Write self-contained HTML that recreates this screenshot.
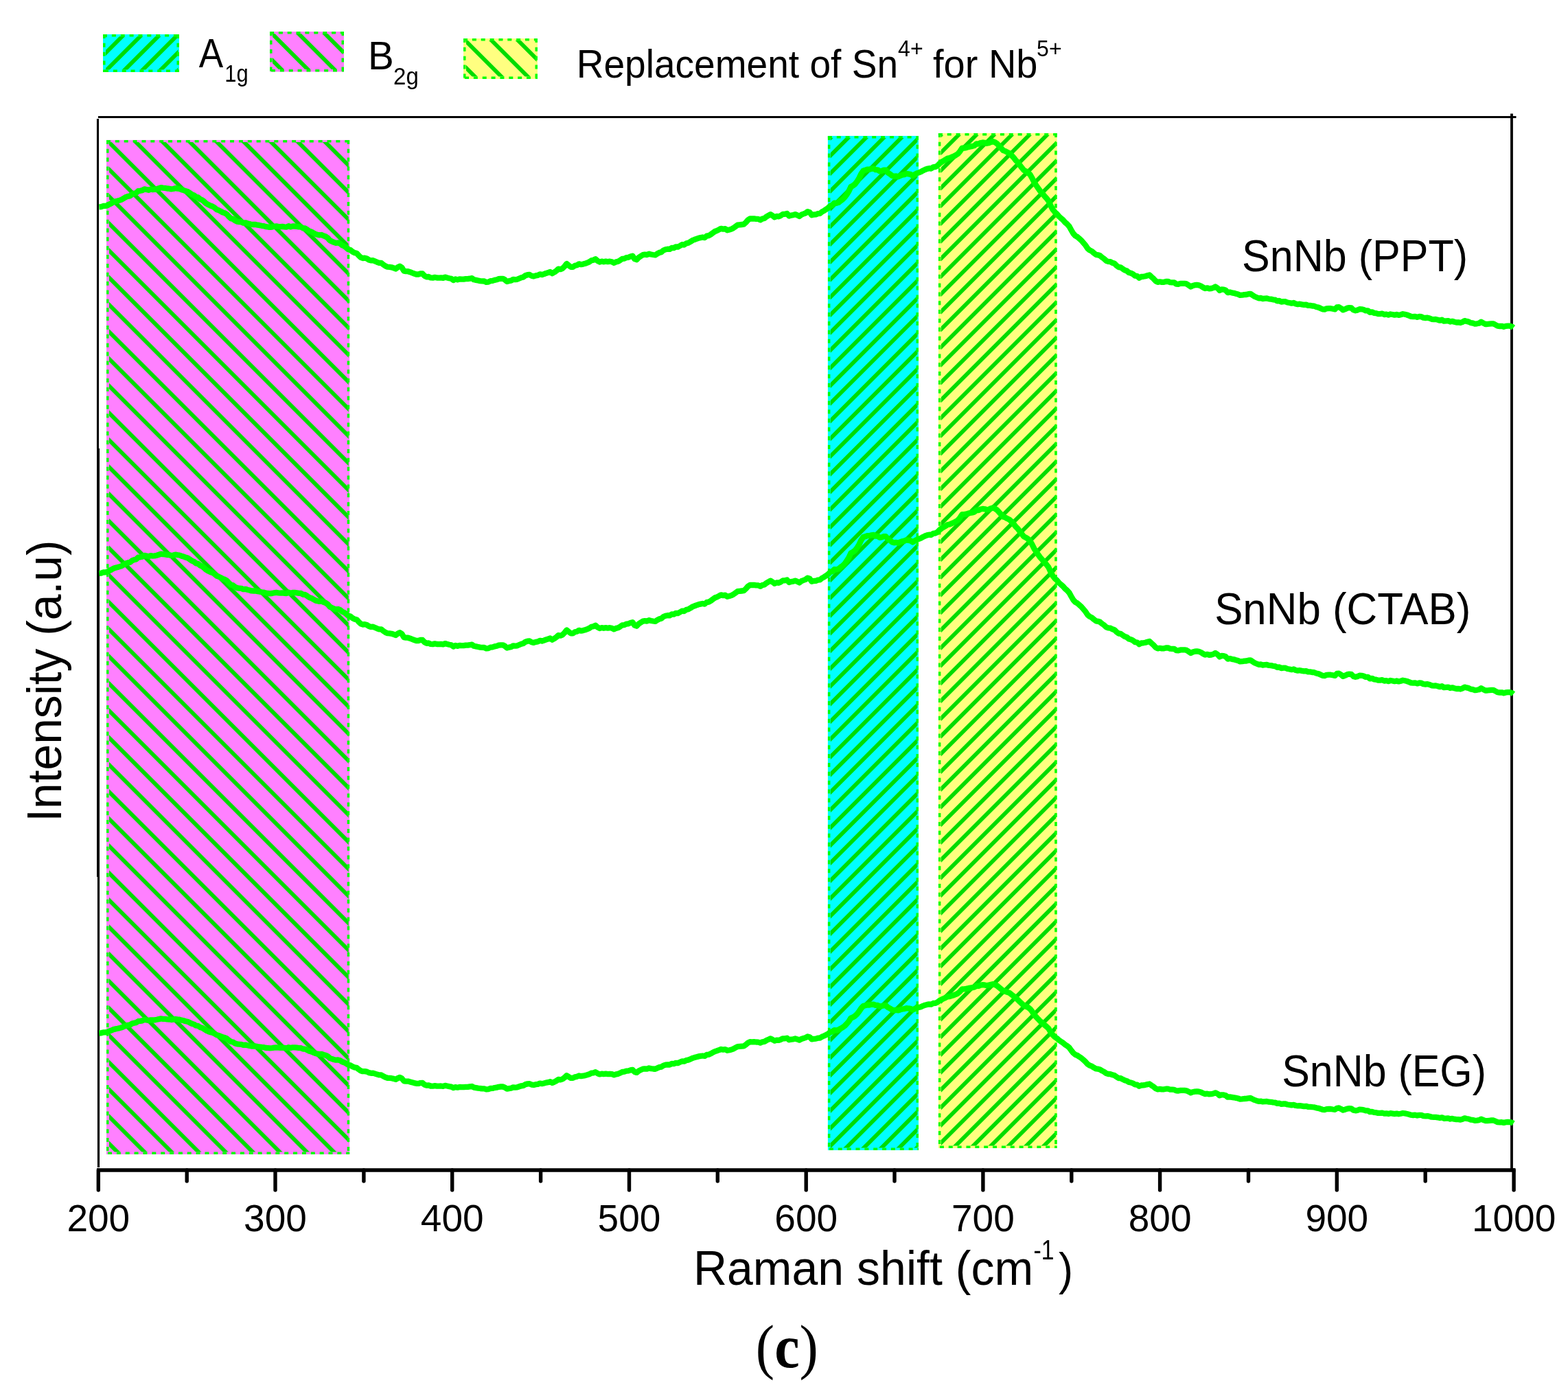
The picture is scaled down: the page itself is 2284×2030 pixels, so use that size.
<!DOCTYPE html>
<html><head><meta charset="utf-8"><title>Raman spectra</title>
<style>html,body{margin:0;padding:0;background:#fff;overflow:hidden;} svg{display:block;}</style>
</head><body>
<svg width="2284" height="2030" viewBox="0 0 2284 2030">
<defs><pattern id="pC" patternUnits="userSpaceOnUse" width="18.208" height="20" patternTransform="translate(20.00,0) rotate(45)"><rect x="-2.90" y="0" width="5.8" height="20" fill="#00dc00"/><rect x="15.31" y="0" width="5.8" height="20" fill="#00dc00"/></pattern><pattern id="pY" patternUnits="userSpaceOnUse" width="18.208" height="20" patternTransform="translate(22.05,0) rotate(45)"><rect x="-2.90" y="0" width="5.8" height="20" fill="#00dc00"/><rect x="15.31" y="0" width="5.8" height="20" fill="#00dc00"/></pattern><pattern id="pB" patternUnits="userSpaceOnUse" width="27.867" height="20" patternTransform="translate(30.42,0) rotate(-45)"><rect x="-2.90" y="0" width="5.8" height="20" fill="#00dc00"/><rect x="24.97" y="0" width="5.8" height="20" fill="#00dc00"/></pattern><pattern id="lA" patternUnits="userSpaceOnUse" width="18.526" height="20" patternTransform="translate(21.40,0) rotate(45)"><rect x="-2.90" y="0" width="5.8" height="20" fill="#00dc00"/><rect x="15.63" y="0" width="5.8" height="20" fill="#00dc00"/></pattern><pattern id="lB" patternUnits="userSpaceOnUse" width="27.224" height="20" patternTransform="translate(0.80,0) rotate(-45)"><rect x="-2.90" y="0" width="5.8" height="20" fill="#00dc00"/><rect x="24.32" y="0" width="5.8" height="20" fill="#00dc00"/></pattern><pattern id="lY" patternUnits="userSpaceOnUse" width="27.224" height="20" patternTransform="translate(2.70,0) rotate(-45)"><rect x="-2.90" y="0" width="5.8" height="20" fill="#00dc00"/><rect x="24.32" y="0" width="5.8" height="20" fill="#00dc00"/></pattern></defs>
<rect width="2284" height="2030" fill="#fff"/>
<!-- legend -->
<rect x="150" y="50" width="111.0" height="55.0" fill="#00ffff"/><rect x="154" y="53" width="105.5" height="48.5" fill="url(#lA)"/><path d="M150.0,51.75H261.0" stroke="#00ff00" stroke-width="3.5" stroke-dasharray="6 6.86" stroke-linecap="butt" fill="none"/><path d="M151.75,50.0V105.0" stroke="#00ff00" stroke-width="3.5" stroke-dasharray="6 6.86" stroke-linecap="butt" fill="none"/><path d="M152.0,103.25H261.0" stroke="#00ff00" stroke-width="3.5" stroke-dasharray="6 6.86" stroke-linecap="butt" fill="none"/><path d="M259.25,50.0V105.0" stroke="#00ff00" stroke-width="3.5" stroke-dasharray="6 6.86" stroke-linecap="butt" fill="none"/>
<rect x="393" y="46" width="108.0" height="58.5" fill="#ff80ff"/><rect x="397" y="49" width="102.5" height="52.0" fill="url(#lB)"/><path d="M393.0,47.75H501.0" stroke="#00ff00" stroke-width="3.5" stroke-dasharray="6 6.86" stroke-linecap="butt" fill="none"/><path d="M394.75,46.0V104.5" stroke="#00ff00" stroke-width="3.5" stroke-dasharray="6 6.86" stroke-linecap="butt" fill="none"/><path d="M395.0,102.75H501.0" stroke="#00ff00" stroke-width="3.5" stroke-dasharray="6 6.86" stroke-linecap="butt" fill="none"/><path d="M499.25,46.0V104.5" stroke="#00ff00" stroke-width="3.5" stroke-dasharray="6 6.86" stroke-linecap="butt" fill="none"/>
<rect x="675" y="56" width="108.0" height="59.0" fill="#ffff80"/><rect x="679" y="59" width="102.5" height="52.5" fill="url(#lY)"/><path d="M675.0,57.75H783.0" stroke="#00ff00" stroke-width="3.5" stroke-dasharray="6 6.86" stroke-linecap="butt" fill="none"/><path d="M676.75,56.0V115.0" stroke="#00ff00" stroke-width="3.5" stroke-dasharray="6 6.86" stroke-linecap="butt" fill="none"/><path d="M677.0,113.25H783.0" stroke="#00ff00" stroke-width="3.5" stroke-dasharray="6 6.86" stroke-linecap="butt" fill="none"/><path d="M781.25,56.0V115.0" stroke="#00ff00" stroke-width="3.5" stroke-dasharray="6 6.86" stroke-linecap="butt" fill="none"/>
<g fill="#000"><text transform="translate(289.80,97.90) scale(0.9103,1)" font-family="'Liberation Sans', sans-serif" font-size="58.33">A</text><text transform="translate(327.32,119.00) scale(0.8758,1)" font-family="'Liberation Sans', sans-serif" font-size="35.28">1g</text><text transform="translate(535.94,100.90) scale(0.9755,1)" font-family="'Liberation Sans', sans-serif" font-size="58.00">B</text><text transform="translate(573.11,122.90) scale(0.9390,1)" font-family="'Liberation Sans', sans-serif" font-size="35.14">2g</text><text transform="translate(839.66,112.80) scale(0.9497,1)" font-family="'Liberation Sans', sans-serif" font-size="58.00">Replacement of Sn</text><text transform="translate(1308.04,81.80) scale(0.9434,1)" font-family="'Liberation Sans', sans-serif" font-size="34.07">4+</text><text transform="translate(1359.03,112.80) scale(0.9652,1)" font-family="'Liberation Sans', sans-serif" font-size="58.00">for Nb</text><text transform="translate(1510.07,81.80) scale(0.9422,1)" font-family="'Liberation Sans', sans-serif" font-size="34.07">5+</text></g>
<!-- plot rects -->
<rect x="155" y="203.9" width="354.2" height="1477.1" fill="#ff80ff"/><rect x="159" y="206.9" width="348.7" height="1470.6" fill="url(#pB)"/><path d="M155.0,205.65H509.2" stroke="#00ff00" stroke-width="3.5" stroke-dasharray="6 6.86" stroke-linecap="butt" fill="none"/><path d="M156.75,203.9V1681.0" stroke="#00ff00" stroke-width="3.5" stroke-dasharray="6 6.86" stroke-linecap="butt" fill="none"/><path d="M157.0,1679.25H509.2" stroke="#00ff00" stroke-width="3.5" stroke-dasharray="6 6.86" stroke-linecap="butt" fill="none"/><path d="M507.45,203.9V1681.0" stroke="#00ff00" stroke-width="3.5" stroke-dasharray="6 6.86" stroke-linecap="butt" fill="none"/>
<rect x="1205.9" y="197.9" width="132.1" height="1477.1" fill="#00ffff"/><rect x="1209.9" y="200.9" width="126.6" height="1470.6" fill="url(#pC)"/><path d="M1205.9,199.65H1338.0" stroke="#00ff00" stroke-width="3.5" stroke-dasharray="6 6.86" stroke-linecap="butt" fill="none"/><path d="M1207.65,197.9V1675.0" stroke="#00ff00" stroke-width="3.5" stroke-dasharray="6 6.86" stroke-linecap="butt" fill="none"/><path d="M1207.9,1673.25H1338.0" stroke="#00ff00" stroke-width="3.5" stroke-dasharray="6 6.86" stroke-linecap="butt" fill="none"/><path d="M1336.25,197.9V1675.0" stroke="#00ff00" stroke-width="3.5" stroke-dasharray="6 6.86" stroke-linecap="butt" fill="none"/>
<rect x="1366.9" y="193.9" width="172.8" height="1478.1" fill="#ffff80"/><rect x="1370.9" y="196.9" width="167.3" height="1471.6" fill="url(#pY)"/><path d="M1366.9,195.65H1539.7" stroke="#00ff00" stroke-width="3.5" stroke-dasharray="6 6.86" stroke-linecap="butt" fill="none"/><path d="M1368.65,193.9V1672.0" stroke="#00ff00" stroke-width="3.5" stroke-dasharray="6 6.86" stroke-linecap="butt" fill="none"/><path d="M1368.9,1670.25H1539.7" stroke="#00ff00" stroke-width="3.5" stroke-dasharray="6 6.86" stroke-linecap="butt" fill="none"/><path d="M1537.95,193.9V1672.0" stroke="#00ff00" stroke-width="3.5" stroke-dasharray="6 6.86" stroke-linecap="butt" fill="none"/>
<!-- axes -->
<line x1="143" y1="170.5" x2="2208.5" y2="170.5" stroke="#000" stroke-width="3"/>
<line x1="2202" y1="165.5" x2="2202" y2="1704" stroke="#000" stroke-width="3.8"/>
<path d="M142.5,173V653" stroke="#000" stroke-width="3.1" fill="none"/><path d="M143,653V1277" stroke="#000" stroke-width="4" fill="none"/><path d="M143.5,1277V1700" stroke="#000" stroke-width="3.2" fill="none"/>
<line x1="141" y1="1704" x2="2207.5" y2="1704" stroke="#000" stroke-width="5.5"/>
<line x1="143.3" y1="1704" x2="143.3" y2="1733" stroke="#000" stroke-width="5.4" stroke-linecap="round"/><line x1="272.2" y1="1704" x2="272.2" y2="1720" stroke="#000" stroke-width="5.4" stroke-linecap="round"/><line x1="401.0" y1="1704" x2="401.0" y2="1733" stroke="#000" stroke-width="5.4" stroke-linecap="round"/><line x1="529.9" y1="1704" x2="529.9" y2="1720" stroke="#000" stroke-width="5.4" stroke-linecap="round"/><line x1="658.7" y1="1704" x2="658.7" y2="1733" stroke="#000" stroke-width="5.4" stroke-linecap="round"/><line x1="787.6" y1="1704" x2="787.6" y2="1720" stroke="#000" stroke-width="5.4" stroke-linecap="round"/><line x1="916.5" y1="1704" x2="916.5" y2="1733" stroke="#000" stroke-width="5.4" stroke-linecap="round"/><line x1="1045.3" y1="1704" x2="1045.3" y2="1720" stroke="#000" stroke-width="5.4" stroke-linecap="round"/><line x1="1174.2" y1="1704" x2="1174.2" y2="1733" stroke="#000" stroke-width="5.4" stroke-linecap="round"/><line x1="1303.0" y1="1704" x2="1303.0" y2="1720" stroke="#000" stroke-width="5.4" stroke-linecap="round"/><line x1="1431.9" y1="1704" x2="1431.9" y2="1733" stroke="#000" stroke-width="5.4" stroke-linecap="round"/><line x1="1560.8" y1="1704" x2="1560.8" y2="1720" stroke="#000" stroke-width="5.4" stroke-linecap="round"/><line x1="1689.6" y1="1704" x2="1689.6" y2="1733" stroke="#000" stroke-width="5.4" stroke-linecap="round"/><line x1="1818.5" y1="1704" x2="1818.5" y2="1720" stroke="#000" stroke-width="5.4" stroke-linecap="round"/><line x1="1947.3" y1="1704" x2="1947.3" y2="1733" stroke="#000" stroke-width="5.4" stroke-linecap="round"/><line x1="2076.2" y1="1704" x2="2076.2" y2="1720" stroke="#000" stroke-width="5.4" stroke-linecap="round"/><line x1="2205.1" y1="1704" x2="2205.1" y2="1733" stroke="#000" stroke-width="5.4" stroke-linecap="round"/>
<!-- curves -->
<g fill="none" stroke="#00ff00" stroke-width="8.3" stroke-linejoin="round" stroke-linecap="butt">
<path d="M144.4,301.4 L147.4,301.2 L150.4,300.0 L153.4,299.8 L156.4,299.3 L159.4,297.4 L162.4,296.1 L165.4,294.2 L168.4,293.3 L171.4,292.5 L174.4,291.6 L177.4,290.6 L180.4,288.7 L183.4,286.9 L186.4,285.9 L189.4,285.4 L192.4,282.8 L195.4,281.7 L198.4,280.9 L201.4,278.2 L204.4,277.8 L207.4,277.1 L210.4,275.4 L213.4,276.0 L216.4,276.8 L219.4,275.7 L222.4,276.1 L225.4,275.9 L228.4,275.2 L231.4,274.2 L234.4,273.2 L237.4,273.7 L240.4,273.9 L243.4,274.5 L246.4,274.7 L249.4,275.4 L252.4,275.0 L255.4,274.1 L258.4,274.6 L261.4,275.0 L264.4,276.2 L267.4,277.0 L270.4,278.3 L273.4,279.1 L276.4,281.0 L279.4,283.1 L282.4,284.3 L285.4,286.8 L288.4,287.3 L291.4,289.9 L294.4,291.2 L297.4,293.6 L300.4,296.3 L303.4,298.1 L306.4,299.5 L309.4,300.5 L312.4,302.3 L315.4,305.0 L318.4,306.1 L321.4,307.6 L324.4,309.4 L327.4,310.3 L330.4,312.0 L333.4,315.4 L336.4,318.2 L339.4,318.9 L342.4,321.3 L345.4,322.6 L348.4,323.2 L351.4,323.3 L354.4,324.7 L357.4,324.3 L360.4,325.3 L363.4,326.0 L366.4,326.9 L369.4,327.0 L372.4,326.9 L375.4,327.7 L378.4,328.2 L381.4,328.8 L384.4,329.2 L387.4,330.1 L390.4,330.5 L393.4,330.8 L396.4,330.5 L399.4,329.8 L402.4,329.4 L405.4,329.8 L408.4,330.1 L411.4,329.9 L414.4,330.3 L417.4,330.6 L420.4,329.2 L423.4,330.4 L426.4,329.3 L429.4,329.5 L432.4,329.8 L435.4,330.3 L438.4,330.4 L441.4,332.3 L444.4,332.4 L447.4,334.3 L450.4,336.5 L453.4,337.4 L456.4,339.2 L459.4,340.9 L462.4,341.8 L465.4,342.4 L468.4,342.0 L471.4,343.4 L474.4,344.5 L477.4,346.5 L480.4,350.0 L483.4,351.6 L486.4,352.8 L489.4,353.9 L492.4,353.5 L495.4,354.6 L498.4,357.2 L501.4,358.5 L504.4,360.8 L507.4,363.3 L510.4,364.1 L513.4,366.5 L516.4,368.1 L519.4,368.7 L522.4,371.9 L525.4,374.8 L528.4,376.0 L531.4,375.7 L534.4,376.5 L537.4,378.5 L540.4,379.4 L543.4,379.2 L546.4,380.5 L549.4,381.8 L552.4,382.9 L555.4,382.9 L558.4,385.4 L561.4,387.4 L564.4,388.7 L567.4,388.9 L570.4,389.3 L573.4,390.2 L576.4,391.6 L579.4,389.2 L582.4,387.6 L585.4,389.7 L588.4,394.7 L591.4,395.2 L594.4,395.2 L597.4,396.2 L600.4,397.4 L603.4,398.5 L606.4,399.5 L609.4,399.5 L612.4,398.5 L615.4,398.4 L618.4,401.8 L621.4,403.3 L624.4,403.0 L627.4,404.4 L630.4,404.6 L633.4,403.9 L636.4,404.5 L639.4,404.7 L642.4,404.4 L645.4,404.9 L648.4,403.6 L651.4,404.4 L654.4,405.2 L657.4,405.8 L660.4,408.0 L663.4,406.4 L666.4,407.4 L669.4,406.3 L672.4,406.6 L675.4,406.6 L678.4,406.1 L681.4,406.2 L684.4,405.7 L687.4,405.1 L690.4,407.3 L693.4,407.9 L696.4,408.5 L699.4,409.1 L702.4,409.4 L705.4,409.5 L708.4,410.9 L711.4,410.6 L714.4,409.1 L717.4,408.9 L720.4,407.9 L723.4,407.3 L726.4,406.2 L729.4,405.8 L732.4,405.8 L735.4,407.3 L738.4,410.0 L741.4,409.2 L744.4,408.7 L747.4,406.9 L750.4,407.2 L753.4,406.8 L756.4,405.5 L759.4,404.2 L762.4,403.4 L765.4,401.2 L768.4,400.2 L771.4,400.0 L774.4,401.8 L777.4,402.4 L780.4,401.4 L783.4,400.9 L786.4,399.3 L789.4,400.1 L792.4,399.1 L795.4,397.9 L798.4,397.1 L801.4,396.0 L804.4,398.2 L807.4,396.5 L810.4,394.4 L813.4,391.6 L816.4,392.2 L819.4,390.9 L822.4,387.9 L825.4,384.0 L828.4,386.5 L831.4,388.8 L834.4,388.9 L837.4,386.8 L840.4,386.2 L843.4,384.3 L846.4,385.2 L849.4,384.6 L852.4,383.8 L855.4,382.7 L858.4,381.4 L861.4,379.3 L864.4,378.7 L867.4,377.2 L870.4,379.8 L873.4,381.5 L876.4,380.6 L879.4,381.3 L882.4,380.6 L885.4,381.2 L888.4,380.7 L891.4,381.3 L894.4,382.9 L897.4,381.4 L900.4,380.8 L903.4,378.9 L906.4,376.9 L909.4,376.6 L912.4,375.1 L915.4,374.8 L918.4,373.5 L921.4,372.7 L924.4,377.1 L927.4,378.2 L930.4,375.0 L933.4,373.1 L936.4,371.2 L939.4,370.7 L942.4,371.1 L945.4,369.7 L948.4,370.5 L951.4,371.0 L954.4,371.4 L957.4,369.5 L960.4,367.9 L963.4,367.2 L966.4,364.5 L969.4,363.3 L972.4,362.7 L975.4,362.9 L978.4,361.0 L981.4,361.2 L984.4,359.4 L987.4,359.7 L990.4,358.0 L993.4,356.2 L996.4,356.6 L999.4,354.6 L1002.4,353.8 L1005.4,352.2 L1008.4,350.2 L1011.4,349.0 L1014.4,347.9 L1017.4,346.8 L1020.4,346.1 L1023.4,345.5 L1026.4,346.1 L1029.4,343.6 L1032.4,343.1 L1035.4,341.4 L1038.4,339.1 L1041.4,337.0 L1044.4,335.9 L1047.4,334.3 L1050.4,332.8 L1053.4,333.7 L1056.4,333.2 L1059.4,335.3 L1062.4,334.5 L1065.4,333.6 L1068.4,332.0 L1071.4,329.8 L1074.4,327.7 L1077.4,327.3 L1080.4,327.0 L1083.4,326.7 L1086.4,324.0 L1089.4,320.5 L1092.4,318.5 L1095.4,318.5 L1098.4,318.3 L1101.4,318.8 L1104.4,318.9 L1107.4,320.4 L1110.4,318.6 L1113.4,318.0 L1116.4,315.6 L1119.4,313.8 L1122.4,312.1 L1125.4,314.2 L1128.4,316.4 L1131.4,314.9 L1134.4,315.3 L1137.4,313.9 L1140.4,311.9 L1143.4,311.8 L1146.4,311.0 L1149.4,314.5 L1152.4,313.6 L1155.4,313.2 L1158.4,312.1 L1161.4,313.3 L1164.4,315.0 L1167.4,312.7 L1170.4,311.5 L1173.4,310.3 L1176.4,308.1 L1179.4,309.1 L1182.4,313.3 L1185.4,312.5 L1188.4,312.3 L1191.4,311.1 L1194.4,310.9 L1197.4,308.4 L1200.4,306.8 L1203.4,304.8 L1206.4,302.6 L1209.4,299.6 L1212.4,298.7 L1215.4,295.6 L1218.4,295.9 L1221.4,294.9 L1224.4,292.5 L1227.4,290.4 L1230.4,287.4 L1233.4,283.3 L1236.4,278.5 L1239.4,272.0 L1242.4,270.4 L1245.4,268.1 L1248.4,264.3 L1251.4,259.3 L1254.4,253.2 L1257.4,248.8 L1260.4,247.8 L1263.4,246.6 L1266.4,246.7 L1269.4,245.8 L1272.4,245.4 L1275.4,247.2 L1278.4,247.3 L1281.4,249.3 L1284.4,248.8 L1287.4,247.7 L1290.4,247.7 L1293.4,251.5 L1296.4,253.4 L1299.4,255.9 L1302.4,256.8 L1305.4,256.4 L1308.4,257.3 L1311.4,255.8 L1314.4,254.7 L1317.4,254.1 L1320.4,252.8 L1323.4,253.3 L1326.4,253.8 L1329.4,256.0 L1332.4,254.1 L1335.4,252.4 L1338.4,251.4 L1341.4,250.2 L1344.4,248.4 L1347.4,247.0 L1350.4,245.9 L1353.4,245.2 L1356.4,245.5 L1359.4,243.3 L1362.4,243.0 L1365.4,241.5 L1368.4,238.3 L1371.4,236.1 L1374.4,234.2 L1377.4,232.4 L1380.4,230.5 L1383.4,230.1 L1386.4,228.7 L1389.4,227.5 L1392.4,225.9 L1395.4,223.9 L1398.4,220.3 L1401.4,215.7 L1404.4,215.6 L1407.4,215.1 L1410.4,214.1 L1413.4,213.5 L1416.4,212.9 L1419.4,212.0 L1422.4,209.3 L1425.4,209.6 L1428.4,208.0 L1431.4,207.5 L1434.4,207.8 L1437.4,208.8 L1440.4,208.2 L1443.4,206.9 L1446.4,206.0 L1449.4,207.2 L1452.4,209.2 L1455.4,212.6 L1458.4,215.9 L1461.4,219.1 L1464.4,220.1 L1467.4,221.8 L1470.4,223.2 L1473.4,226.1 L1476.4,229.3 L1479.4,233.3 L1482.4,236.2 L1485.4,240.2 L1488.4,244.2 L1491.4,247.8 L1494.4,249.4 L1497.4,251.2 L1500.4,254.2 L1503.4,259.3 L1506.4,265.4 L1509.4,270.0 L1512.4,274.3 L1515.4,278.5 L1518.4,281.8 L1521.4,285.4 L1524.4,288.8 L1527.4,292.6 L1530.4,299.3 L1533.4,305.0 L1536.4,308.8 L1539.4,311.4 L1542.4,315.0 L1545.4,317.8 L1548.4,320.3 L1551.4,323.8 L1554.4,326.3 L1557.4,329.6 L1560.4,335.0 L1563.4,340.1 L1566.4,343.4 L1569.4,345.0 L1572.4,347.7 L1575.4,350.3 L1578.4,353.9 L1581.4,357.4 L1584.4,362.0 L1587.4,364.4 L1590.4,365.9 L1593.4,368.5 L1596.4,370.8 L1599.4,371.3 L1602.4,372.3 L1605.4,374.9 L1608.4,376.9 L1611.4,379.8 L1614.4,380.9 L1617.4,381.2 L1620.4,382.8 L1623.4,383.8 L1626.4,386.7 L1629.4,389.0 L1632.4,389.3 L1635.4,391.5 L1638.4,393.4 L1641.4,394.5 L1644.4,397.0 L1647.4,397.8 L1650.4,399.3 L1653.4,401.6 L1656.4,402.0 L1659.4,404.8 L1662.4,403.0 L1665.4,402.8 L1668.4,402.2 L1671.4,401.2 L1674.4,400.4 L1677.4,403.3 L1680.4,405.9 L1683.4,409.3 L1686.4,410.9 L1689.4,410.3 L1692.4,410.9 L1695.4,410.8 L1698.4,410.0 L1701.4,409.8 L1704.4,411.2 L1707.4,411.4 L1710.4,411.4 L1713.4,413.6 L1716.4,413.8 L1719.4,412.9 L1722.4,412.9 L1725.4,412.8 L1728.4,413.4 L1731.4,415.3 L1734.4,417.5 L1737.4,416.0 L1740.4,415.2 L1743.4,414.8 L1746.4,415.3 L1749.4,416.5 L1752.4,418.5 L1755.4,420.1 L1758.4,419.3 L1761.4,420.3 L1764.4,420.0 L1767.4,419.1 L1770.4,417.5 L1773.4,419.4 L1776.4,422.9 L1779.4,421.5 L1782.4,421.6 L1785.4,422.7 L1788.4,426.1 L1791.4,425.5 L1794.4,426.3 L1797.4,426.8 L1800.4,427.7 L1803.4,428.5 L1806.4,429.9 L1809.4,429.7 L1812.4,429.1 L1815.4,429.0 L1818.4,428.2 L1821.4,427.8 L1824.4,429.8 L1827.4,431.7 L1830.4,433.0 L1833.4,434.3 L1836.4,434.0 L1839.4,435.0 L1842.4,434.7 L1845.4,434.5 L1848.4,435.4 L1851.4,435.6 L1854.4,436.3 L1857.4,436.7 L1860.4,438.3 L1863.4,438.0 L1866.4,439.6 L1869.4,439.1 L1872.4,439.2 L1875.4,440.5 L1878.4,441.0 L1881.4,441.7 L1884.4,441.0 L1887.4,442.5 L1890.4,443.1 L1893.4,442.7 L1896.4,443.4 L1899.4,443.9 L1902.4,443.6 L1905.4,444.9 L1908.4,444.9 L1911.4,445.5 L1914.4,445.7 L1917.4,447.0 L1920.4,447.6 L1923.4,448.9 L1926.4,450.3 L1929.4,450.6 L1932.4,449.3 L1935.4,449.2 L1938.4,449.2 L1941.4,449.8 L1944.4,450.4 L1947.4,447.5 L1950.4,447.2 L1953.4,449.0 L1956.4,451.4 L1959.4,450.2 L1962.4,448.7 L1965.4,448.2 L1968.4,448.4 L1971.4,451.4 L1974.4,452.3 L1977.4,451.6 L1980.4,450.1 L1983.4,450.3 L1986.4,451.0 L1989.4,452.4 L1992.4,452.3 L1995.4,454.8 L1998.4,454.3 L2001.4,455.8 L2004.4,456.1 L2007.4,457.1 L2010.4,457.1 L2013.4,456.6 L2016.4,458.1 L2019.4,457.6 L2022.4,458.6 L2025.4,457.5 L2028.4,458.0 L2031.4,458.7 L2034.4,458.0 L2037.4,458.9 L2040.4,458.2 L2043.4,457.2 L2046.4,457.8 L2049.4,458.5 L2052.4,459.6 L2055.4,460.9 L2058.4,461.2 L2061.4,460.8 L2064.4,461.9 L2067.4,461.0 L2070.4,461.2 L2073.4,462.7 L2076.4,463.0 L2079.4,462.7 L2082.4,463.5 L2085.4,464.8 L2088.4,465.1 L2091.4,465.0 L2094.4,465.7 L2097.4,466.7 L2100.4,465.7 L2103.4,467.7 L2106.4,467.3 L2109.4,467.1 L2112.4,468.5 L2115.4,467.8 L2118.4,468.8 L2121.4,469.5 L2124.4,469.4 L2127.4,470.0 L2130.4,468.8 L2133.4,467.1 L2136.4,467.9 L2139.4,468.6 L2142.4,470.2 L2145.4,470.5 L2148.4,471.7 L2151.4,471.3 L2154.4,470.7 L2157.4,468.7 L2160.4,470.3 L2163.4,472.0 L2166.4,472.0 L2169.4,471.6 L2172.4,471.3 L2175.4,471.3 L2178.4,473.0 L2181.4,474.7 L2184.4,475.0 L2187.4,474.8 L2190.4,475.8 L2193.4,474.9 L2196.4,474.6 L2199.4,474.7 L2202.4,475.6 L2204.5,477.3"/>
<path d="M144.4,834.9 L147.4,834.7 L150.4,833.5 L153.4,833.3 L156.4,832.8 L159.4,830.9 L162.4,829.6 L165.4,827.7 L168.4,826.8 L171.4,826.0 L174.4,825.1 L177.4,824.1 L180.4,822.2 L183.4,820.4 L186.4,819.4 L189.4,818.9 L192.4,816.3 L195.4,815.2 L198.4,814.4 L201.4,811.7 L204.4,811.3 L207.4,810.6 L210.4,808.9 L213.4,809.5 L216.4,810.3 L219.4,809.2 L222.4,809.6 L225.4,809.4 L228.4,808.7 L231.4,807.7 L234.4,806.7 L237.4,807.2 L240.4,807.4 L243.4,808.0 L246.4,808.2 L249.4,808.9 L252.4,808.5 L255.4,807.6 L258.4,808.1 L261.4,808.5 L264.4,809.7 L267.4,810.5 L270.4,811.8 L273.4,812.6 L276.4,814.5 L279.4,816.6 L282.4,817.8 L285.4,820.3 L288.4,820.8 L291.4,823.4 L294.4,824.7 L297.4,827.1 L300.4,829.8 L303.4,831.6 L306.4,833.0 L309.4,834.0 L312.4,835.8 L315.4,838.5 L318.4,839.6 L321.4,841.1 L324.4,842.9 L327.4,843.8 L330.4,845.5 L333.4,848.9 L336.4,851.7 L339.4,852.4 L342.4,854.8 L345.4,856.1 L348.4,856.7 L351.4,856.8 L354.4,858.2 L357.4,857.8 L360.4,858.8 L363.4,859.5 L366.4,860.4 L369.4,860.5 L372.4,860.4 L375.4,861.2 L378.4,861.7 L381.4,862.3 L384.4,862.7 L387.4,863.6 L390.4,864.0 L393.4,864.3 L396.4,864.0 L399.4,863.3 L402.4,862.9 L405.4,863.3 L408.4,863.6 L411.4,863.4 L414.4,863.8 L417.4,864.1 L420.4,862.7 L423.4,863.9 L426.4,862.8 L429.4,863.0 L432.4,863.3 L435.4,863.8 L438.4,863.9 L441.4,865.8 L444.4,865.9 L447.4,867.8 L450.4,870.0 L453.4,870.9 L456.4,872.7 L459.4,874.4 L462.4,875.3 L465.4,875.9 L468.4,875.5 L471.4,876.9 L474.4,878.0 L477.4,880.0 L480.4,883.5 L483.4,885.1 L486.4,886.3 L489.4,887.4 L492.4,887.0 L495.4,888.1 L498.4,890.7 L501.4,892.0 L504.4,894.3 L507.4,896.8 L510.4,897.6 L513.4,900.0 L516.4,901.6 L519.4,902.2 L522.4,905.4 L525.4,908.3 L528.4,909.5 L531.4,909.2 L534.4,910.0 L537.4,912.0 L540.4,912.9 L543.4,912.7 L546.4,914.0 L549.4,915.3 L552.4,916.4 L555.4,916.4 L558.4,918.9 L561.4,920.9 L564.4,922.2 L567.4,922.4 L570.4,922.8 L573.4,923.7 L576.4,925.1 L579.4,922.7 L582.4,921.1 L585.4,923.2 L588.4,928.2 L591.4,928.7 L594.4,928.7 L597.4,929.7 L600.4,930.9 L603.4,932.0 L606.4,933.0 L609.4,933.0 L612.4,932.0 L615.4,931.9 L618.4,935.3 L621.4,936.8 L624.4,936.5 L627.4,937.9 L630.4,938.1 L633.4,937.4 L636.4,938.0 L639.4,938.2 L642.4,937.9 L645.4,938.4 L648.4,937.1 L651.4,937.9 L654.4,938.7 L657.4,939.3 L660.4,941.5 L663.4,939.9 L666.4,940.9 L669.4,939.8 L672.4,940.1 L675.4,940.1 L678.4,939.6 L681.4,939.7 L684.4,939.2 L687.4,938.6 L690.4,940.8 L693.4,941.4 L696.4,942.0 L699.4,942.6 L702.4,942.9 L705.4,943.0 L708.4,944.4 L711.4,944.1 L714.4,942.6 L717.4,942.4 L720.4,941.4 L723.4,940.8 L726.4,939.7 L729.4,939.3 L732.4,939.3 L735.4,940.8 L738.4,943.5 L741.4,942.7 L744.4,942.2 L747.4,940.4 L750.4,940.7 L753.4,940.3 L756.4,939.0 L759.4,937.7 L762.4,936.9 L765.4,934.7 L768.4,933.7 L771.4,933.5 L774.4,935.3 L777.4,935.9 L780.4,934.9 L783.4,934.4 L786.4,932.8 L789.4,933.6 L792.4,932.6 L795.4,931.4 L798.4,930.6 L801.4,929.5 L804.4,931.7 L807.4,930.0 L810.4,927.9 L813.4,925.1 L816.4,925.7 L819.4,924.4 L822.4,921.4 L825.4,917.5 L828.4,920.0 L831.4,922.3 L834.4,922.4 L837.4,920.3 L840.4,919.7 L843.4,917.8 L846.4,918.7 L849.4,918.1 L852.4,917.3 L855.4,916.2 L858.4,914.9 L861.4,912.8 L864.4,912.2 L867.4,910.7 L870.4,913.3 L873.4,915.0 L876.4,914.1 L879.4,914.8 L882.4,914.1 L885.4,914.7 L888.4,914.2 L891.4,914.8 L894.4,916.4 L897.4,914.9 L900.4,914.3 L903.4,912.4 L906.4,910.4 L909.4,910.1 L912.4,908.6 L915.4,908.3 L918.4,907.0 L921.4,906.2 L924.4,910.6 L927.4,911.7 L930.4,908.5 L933.4,906.6 L936.4,904.7 L939.4,904.2 L942.4,904.6 L945.4,903.2 L948.4,904.0 L951.4,904.5 L954.4,904.9 L957.4,903.0 L960.4,901.4 L963.4,900.7 L966.4,898.0 L969.4,896.8 L972.4,896.2 L975.4,896.4 L978.4,894.5 L981.4,894.7 L984.4,892.9 L987.4,893.2 L990.4,891.5 L993.4,889.7 L996.4,890.1 L999.4,888.1 L1002.4,887.3 L1005.4,885.7 L1008.4,883.7 L1011.4,882.5 L1014.4,881.4 L1017.4,880.3 L1020.4,879.6 L1023.4,879.0 L1026.4,879.6 L1029.4,877.1 L1032.4,876.6 L1035.4,874.9 L1038.4,872.6 L1041.4,870.5 L1044.4,869.4 L1047.4,867.8 L1050.4,866.3 L1053.4,867.2 L1056.4,866.7 L1059.4,868.8 L1062.4,868.0 L1065.4,867.1 L1068.4,865.5 L1071.4,863.3 L1074.4,861.2 L1077.4,860.8 L1080.4,860.5 L1083.4,860.2 L1086.4,857.5 L1089.4,854.0 L1092.4,852.0 L1095.4,852.0 L1098.4,851.8 L1101.4,852.3 L1104.4,852.4 L1107.4,853.9 L1110.4,852.1 L1113.4,851.5 L1116.4,849.1 L1119.4,847.3 L1122.4,845.6 L1125.4,847.7 L1128.4,849.9 L1131.4,848.4 L1134.4,848.8 L1137.4,847.4 L1140.4,845.4 L1143.4,845.3 L1146.4,844.5 L1149.4,848.0 L1152.4,847.1 L1155.4,846.7 L1158.4,845.6 L1161.4,846.8 L1164.4,848.5 L1167.4,846.2 L1170.4,845.0 L1173.4,843.8 L1176.4,841.6 L1179.4,842.6 L1182.4,846.8 L1185.4,846.0 L1188.4,845.8 L1191.4,844.6 L1194.4,844.4 L1197.4,841.9 L1200.4,840.3 L1203.4,838.3 L1206.4,836.1 L1209.4,833.1 L1212.4,832.2 L1215.4,829.1 L1218.4,829.4 L1221.4,828.4 L1224.4,826.0 L1227.4,823.9 L1230.4,820.9 L1233.4,816.8 L1236.4,812.0 L1239.4,805.5 L1242.4,803.9 L1245.4,801.6 L1248.4,797.8 L1251.4,792.8 L1254.4,786.7 L1257.4,782.3 L1260.4,781.3 L1263.4,780.1 L1266.4,780.2 L1269.4,779.3 L1272.4,778.9 L1275.4,780.7 L1278.4,780.8 L1281.4,782.8 L1284.4,782.3 L1287.4,781.2 L1290.4,781.2 L1293.4,785.0 L1296.4,786.9 L1299.4,789.4 L1302.4,790.3 L1305.4,789.9 L1308.4,790.8 L1311.4,789.3 L1314.4,788.2 L1317.4,787.6 L1320.4,786.3 L1323.4,786.8 L1326.4,787.3 L1329.4,789.5 L1332.4,787.6 L1335.4,785.9 L1338.4,784.9 L1341.4,783.7 L1344.4,781.9 L1347.4,780.5 L1350.4,779.4 L1353.4,778.7 L1356.4,779.0 L1359.4,776.8 L1362.4,776.5 L1365.4,775.0 L1368.4,771.8 L1371.4,769.6 L1374.4,767.7 L1377.4,765.9 L1380.4,764.0 L1383.4,763.6 L1386.4,762.2 L1389.4,761.0 L1392.4,759.4 L1395.4,757.4 L1398.4,753.8 L1401.4,749.2 L1404.4,749.1 L1407.4,748.6 L1410.4,747.6 L1413.4,747.0 L1416.4,746.4 L1419.4,745.5 L1422.4,742.8 L1425.4,743.1 L1428.4,741.5 L1431.4,741.0 L1434.4,741.3 L1437.4,742.3 L1440.4,741.7 L1443.4,740.4 L1446.4,739.5 L1449.4,740.7 L1452.4,742.7 L1455.4,746.1 L1458.4,749.4 L1461.4,752.6 L1464.4,753.6 L1467.4,755.3 L1470.4,756.7 L1473.4,759.6 L1476.4,762.8 L1479.4,766.8 L1482.4,769.7 L1485.4,773.7 L1488.4,777.7 L1491.4,781.3 L1494.4,782.9 L1497.4,784.7 L1500.4,787.7 L1503.4,792.8 L1506.4,798.9 L1509.4,803.5 L1512.4,807.8 L1515.4,812.0 L1518.4,815.3 L1521.4,818.9 L1524.4,822.3 L1527.4,826.1 L1530.4,832.8 L1533.4,838.5 L1536.4,842.3 L1539.4,844.9 L1542.4,848.5 L1545.4,851.3 L1548.4,853.8 L1551.4,857.3 L1554.4,859.8 L1557.4,863.1 L1560.4,868.5 L1563.4,873.6 L1566.4,876.9 L1569.4,878.5 L1572.4,881.2 L1575.4,883.8 L1578.4,887.4 L1581.4,890.9 L1584.4,895.5 L1587.4,897.9 L1590.4,899.4 L1593.4,902.0 L1596.4,904.3 L1599.4,904.8 L1602.4,905.8 L1605.4,908.4 L1608.4,910.4 L1611.4,913.3 L1614.4,914.4 L1617.4,914.7 L1620.4,916.3 L1623.4,917.3 L1626.4,920.2 L1629.4,922.5 L1632.4,922.8 L1635.4,925.0 L1638.4,926.9 L1641.4,928.0 L1644.4,930.5 L1647.4,931.3 L1650.4,932.8 L1653.4,935.1 L1656.4,935.5 L1659.4,938.3 L1662.4,936.5 L1665.4,936.3 L1668.4,935.7 L1671.4,934.7 L1674.4,933.9 L1677.4,936.8 L1680.4,939.4 L1683.4,942.8 L1686.4,944.4 L1689.4,943.8 L1692.4,944.4 L1695.4,944.3 L1698.4,943.5 L1701.4,943.3 L1704.4,944.7 L1707.4,944.9 L1710.4,944.9 L1713.4,947.1 L1716.4,947.3 L1719.4,946.4 L1722.4,946.4 L1725.4,946.3 L1728.4,946.9 L1731.4,948.8 L1734.4,951.0 L1737.4,949.5 L1740.4,948.7 L1743.4,948.3 L1746.4,948.8 L1749.4,950.0 L1752.4,952.0 L1755.4,953.6 L1758.4,952.8 L1761.4,953.8 L1764.4,953.5 L1767.4,952.6 L1770.4,951.0 L1773.4,952.9 L1776.4,956.4 L1779.4,955.0 L1782.4,955.1 L1785.4,956.2 L1788.4,959.6 L1791.4,959.0 L1794.4,959.8 L1797.4,960.3 L1800.4,961.2 L1803.4,962.0 L1806.4,963.4 L1809.4,963.2 L1812.4,962.6 L1815.4,962.5 L1818.4,961.7 L1821.4,961.3 L1824.4,963.3 L1827.4,965.2 L1830.4,966.5 L1833.4,967.8 L1836.4,967.5 L1839.4,968.5 L1842.4,968.2 L1845.4,968.0 L1848.4,968.9 L1851.4,969.1 L1854.4,969.8 L1857.4,970.2 L1860.4,971.8 L1863.4,971.5 L1866.4,973.1 L1869.4,972.6 L1872.4,972.7 L1875.4,974.0 L1878.4,974.5 L1881.4,975.2 L1884.4,974.5 L1887.4,976.0 L1890.4,976.6 L1893.4,976.2 L1896.4,976.9 L1899.4,977.4 L1902.4,977.1 L1905.4,978.4 L1908.4,978.4 L1911.4,979.0 L1914.4,979.2 L1917.4,980.5 L1920.4,981.1 L1923.4,982.4 L1926.4,983.8 L1929.4,984.1 L1932.4,982.8 L1935.4,982.7 L1938.4,982.7 L1941.4,983.3 L1944.4,983.9 L1947.4,981.0 L1950.4,980.7 L1953.4,982.5 L1956.4,984.9 L1959.4,983.7 L1962.4,982.2 L1965.4,981.7 L1968.4,981.9 L1971.4,984.9 L1974.4,985.8 L1977.4,985.1 L1980.4,983.6 L1983.4,983.8 L1986.4,984.5 L1989.4,985.9 L1992.4,985.8 L1995.4,988.3 L1998.4,987.8 L2001.4,989.3 L2004.4,989.6 L2007.4,990.6 L2010.4,990.6 L2013.4,990.1 L2016.4,991.6 L2019.4,991.1 L2022.4,992.1 L2025.4,991.0 L2028.4,991.5 L2031.4,992.2 L2034.4,991.5 L2037.4,992.4 L2040.4,991.7 L2043.4,990.7 L2046.4,991.3 L2049.4,992.0 L2052.4,993.1 L2055.4,994.4 L2058.4,994.7 L2061.4,994.3 L2064.4,995.4 L2067.4,994.5 L2070.4,994.7 L2073.4,996.2 L2076.4,996.5 L2079.4,996.2 L2082.4,997.0 L2085.4,998.3 L2088.4,998.6 L2091.4,998.5 L2094.4,999.2 L2097.4,1000.2 L2100.4,999.2 L2103.4,1001.2 L2106.4,1000.8 L2109.4,1000.6 L2112.4,1002.0 L2115.4,1001.3 L2118.4,1002.3 L2121.4,1003.0 L2124.4,1002.9 L2127.4,1003.5 L2130.4,1002.3 L2133.4,1000.6 L2136.4,1001.4 L2139.4,1002.1 L2142.4,1003.7 L2145.4,1004.0 L2148.4,1005.2 L2151.4,1004.8 L2154.4,1004.2 L2157.4,1002.2 L2160.4,1003.8 L2163.4,1005.5 L2166.4,1005.5 L2169.4,1005.1 L2172.4,1004.8 L2175.4,1004.8 L2178.4,1006.5 L2181.4,1008.2 L2184.4,1008.5 L2187.4,1008.3 L2190.4,1009.3 L2193.4,1008.4 L2196.4,1008.1 L2199.4,1008.2 L2202.4,1009.1 L2204.5,1010.8"/>
<path d="M144.4,1504.5 L147.4,1504.3 L150.4,1503.4 L153.4,1503.3 L156.4,1502.9 L159.4,1501.4 L162.4,1500.5 L165.4,1499.1 L168.4,1498.4 L171.4,1497.8 L174.4,1497.1 L177.4,1496.3 L180.4,1494.9 L183.4,1493.6 L186.4,1492.8 L189.4,1492.5 L192.4,1490.5 L195.4,1489.7 L198.4,1489.1 L201.4,1487.1 L204.4,1486.8 L207.4,1486.3 L210.4,1485.0 L213.4,1485.5 L216.4,1486.0 L219.4,1485.3 L222.4,1485.5 L225.4,1485.4 L228.4,1484.8 L231.4,1484.1 L234.4,1483.4 L237.4,1483.8 L240.4,1483.9 L243.4,1484.3 L246.4,1484.5 L249.4,1485.0 L252.4,1484.7 L255.4,1484.0 L258.4,1484.4 L261.4,1484.7 L264.4,1485.6 L267.4,1486.2 L270.4,1487.2 L273.4,1487.8 L276.4,1489.2 L279.4,1490.7 L282.4,1491.6 L285.4,1493.5 L288.4,1493.9 L291.4,1495.9 L294.4,1496.8 L297.4,1498.6 L300.4,1500.7 L303.4,1502.0 L306.4,1503.1 L309.4,1503.8 L312.4,1505.1 L315.4,1507.1 L318.4,1507.9 L321.4,1509.1 L324.4,1510.4 L327.4,1511.1 L330.4,1512.4 L333.4,1514.9 L336.4,1517.0 L339.4,1517.5 L342.4,1519.4 L345.4,1520.3 L348.4,1520.7 L351.4,1520.9 L354.4,1521.9 L357.4,1521.6 L360.4,1522.3 L363.4,1522.9 L366.4,1523.5 L369.4,1523.6 L372.4,1523.5 L375.4,1524.1 L378.4,1524.5 L381.4,1524.9 L384.4,1525.2 L387.4,1526.0 L390.4,1526.2 L393.4,1526.4 L396.4,1526.2 L399.4,1525.7 L402.4,1525.4 L405.4,1525.7 L408.4,1525.9 L411.4,1525.8 L414.4,1526.0 L417.4,1526.3 L420.4,1525.2 L423.4,1526.1 L426.4,1525.3 L429.4,1525.4 L432.4,1525.7 L435.4,1526.1 L438.4,1526.2 L441.4,1527.6 L444.4,1527.6 L447.4,1529.1 L450.4,1530.7 L453.4,1531.4 L456.4,1532.7 L459.4,1534.0 L462.4,1534.7 L465.4,1535.1 L468.4,1534.8 L471.4,1535.9 L474.4,1536.7 L477.4,1538.2 L480.4,1540.8 L483.4,1542.0 L486.4,1542.9 L489.4,1543.7 L492.4,1543.4 L495.4,1544.2 L498.4,1546.2 L501.4,1547.2 L504.4,1548.9 L507.4,1550.7 L510.4,1551.3 L513.4,1553.2 L516.4,1554.4 L519.4,1554.8 L522.4,1557.2 L525.4,1559.3 L528.4,1560.2 L531.4,1560.1 L534.4,1560.6 L537.4,1562.1 L540.4,1562.8 L543.4,1562.6 L546.4,1563.6 L549.4,1564.6 L552.4,1565.4 L555.4,1565.4 L558.4,1567.3 L561.4,1568.8 L564.4,1569.8 L567.4,1569.9 L570.4,1570.2 L573.4,1570.9 L576.4,1571.9 L579.4,1570.1 L582.4,1568.9 L585.4,1570.5 L588.4,1574.3 L591.4,1574.6 L594.4,1574.6 L597.4,1575.4 L600.4,1576.3 L603.4,1577.1 L606.4,1577.8 L609.4,1577.9 L612.4,1577.1 L615.4,1577.0 L618.4,1579.6 L621.4,1580.7 L624.4,1580.4 L627.4,1581.5 L630.4,1581.7 L633.4,1581.1 L636.4,1581.6 L639.4,1581.7 L642.4,1581.5 L645.4,1581.9 L648.4,1580.9 L651.4,1581.5 L654.4,1582.1 L657.4,1582.6 L660.4,1584.2 L663.4,1583.0 L666.4,1583.7 L669.4,1582.9 L672.4,1583.2 L675.4,1583.2 L678.4,1582.8 L681.4,1582.9 L684.4,1582.4 L687.4,1582.0 L690.4,1583.6 L693.4,1584.1 L696.4,1584.6 L699.4,1585.0 L702.4,1585.3 L705.4,1585.3 L708.4,1586.4 L711.4,1586.1 L714.4,1585.0 L717.4,1584.9 L720.4,1584.1 L723.4,1583.7 L726.4,1582.8 L729.4,1582.5 L732.4,1582.5 L735.4,1583.6 L738.4,1585.7 L741.4,1585.1 L744.4,1584.7 L747.4,1583.4 L750.4,1583.6 L753.4,1583.3 L756.4,1582.3 L759.4,1581.3 L762.4,1580.8 L765.4,1579.1 L768.4,1578.4 L771.4,1578.2 L774.4,1579.6 L777.4,1580.0 L780.4,1579.2 L783.4,1578.9 L786.4,1577.7 L789.4,1578.2 L792.4,1577.5 L795.4,1576.6 L798.4,1576.1 L801.4,1575.2 L804.4,1576.9 L807.4,1575.6 L810.4,1574.0 L813.4,1571.9 L816.4,1572.4 L819.4,1571.4 L822.4,1569.2 L825.4,1566.2 L828.4,1568.1 L831.4,1569.8 L834.4,1569.9 L837.4,1568.3 L840.4,1567.8 L843.4,1566.5 L846.4,1567.1 L849.4,1566.7 L852.4,1566.1 L855.4,1565.2 L858.4,1564.3 L861.4,1562.7 L864.4,1562.3 L867.4,1561.2 L870.4,1563.1 L873.4,1564.4 L876.4,1563.7 L879.4,1564.2 L882.4,1563.7 L885.4,1564.1 L888.4,1563.8 L891.4,1564.2 L894.4,1565.4 L897.4,1564.3 L900.4,1563.8 L903.4,1562.4 L906.4,1561.0 L909.4,1560.7 L912.4,1559.6 L915.4,1559.4 L918.4,1558.4 L921.4,1557.8 L924.4,1561.0 L927.4,1561.9 L930.4,1559.5 L933.4,1558.1 L936.4,1556.7 L939.4,1556.3 L942.4,1556.6 L945.4,1555.5 L948.4,1556.1 L951.4,1556.5 L954.4,1556.8 L957.4,1555.4 L960.4,1554.2 L963.4,1553.7 L966.4,1551.6 L969.4,1550.7 L972.4,1550.3 L975.4,1550.5 L978.4,1549.0 L981.4,1549.2 L984.4,1547.9 L987.4,1548.1 L990.4,1546.8 L993.4,1545.4 L996.4,1545.7 L999.4,1544.2 L1002.4,1543.7 L1005.4,1542.4 L1008.4,1541.0 L1011.4,1540.1 L1014.4,1539.3 L1017.4,1538.4 L1020.4,1537.9 L1023.4,1537.5 L1026.4,1537.9 L1029.4,1536.0 L1032.4,1535.7 L1035.4,1534.3 L1038.4,1532.7 L1041.4,1531.1 L1044.4,1530.2 L1047.4,1529.1 L1050.4,1528.0 L1053.4,1528.6 L1056.4,1528.2 L1059.4,1529.8 L1062.4,1529.2 L1065.4,1528.5 L1068.4,1527.3 L1071.4,1525.7 L1074.4,1524.1 L1077.4,1523.8 L1080.4,1523.6 L1083.4,1523.4 L1086.4,1521.3 L1089.4,1518.7 L1092.4,1517.2 L1095.4,1517.3 L1098.4,1517.1 L1101.4,1517.5 L1104.4,1517.6 L1107.4,1518.6 L1110.4,1517.3 L1113.4,1516.9 L1116.4,1515.1 L1119.4,1513.7 L1122.4,1512.4 L1125.4,1514.0 L1128.4,1515.7 L1131.4,1514.6 L1134.4,1514.9 L1137.4,1513.8 L1140.4,1512.3 L1143.4,1512.3 L1146.4,1511.7 L1149.4,1514.3 L1152.4,1513.6 L1155.4,1513.3 L1158.4,1512.5 L1161.4,1513.4 L1164.4,1514.6 L1167.4,1512.9 L1170.4,1512.0 L1173.4,1511.1 L1176.4,1509.5 L1179.4,1510.2 L1182.4,1513.3 L1185.4,1512.8 L1188.4,1512.6 L1191.4,1511.7 L1194.4,1511.6 L1197.4,1509.7 L1200.4,1508.5 L1203.4,1507.0 L1206.4,1505.4 L1209.4,1503.1 L1212.4,1502.4 L1215.4,1500.1 L1218.4,1500.4 L1221.4,1499.6 L1224.4,1497.8 L1227.4,1496.2 L1230.4,1494.0 L1233.4,1490.9 L1236.4,1487.4 L1239.4,1482.5 L1242.4,1481.3 L1245.4,1479.6 L1248.4,1476.7 L1251.4,1472.9 L1254.4,1468.4 L1257.4,1465.1 L1260.4,1464.3 L1263.4,1463.5 L1266.4,1463.5 L1269.4,1462.8 L1272.4,1462.6 L1275.4,1463.9 L1278.4,1464.0 L1281.4,1465.5 L1284.4,1465.1 L1287.4,1464.3 L1290.4,1464.2 L1293.4,1467.1 L1296.4,1468.5 L1299.4,1470.5 L1302.4,1471.1 L1305.4,1470.8 L1308.4,1471.4 L1311.4,1470.3 L1314.4,1469.5 L1317.4,1469.1 L1320.4,1468.1 L1323.4,1468.5 L1326.4,1468.8 L1329.4,1470.5 L1332.4,1469.1 L1335.4,1467.8 L1338.4,1467.0 L1341.4,1466.2 L1344.4,1464.8 L1347.4,1463.7 L1350.4,1462.9 L1353.4,1462.4 L1356.4,1462.7 L1359.4,1461.0 L1362.4,1460.8 L1365.4,1459.6 L1368.4,1457.2 L1371.4,1455.6 L1374.4,1454.2 L1377.4,1452.9 L1380.4,1451.4 L1383.4,1451.1 L1386.4,1450.1 L1389.4,1449.2 L1392.4,1448.0 L1395.4,1446.5 L1398.4,1443.8 L1401.4,1440.4 L1404.4,1440.3 L1407.4,1439.9 L1410.4,1439.2 L1413.4,1438.7 L1416.4,1438.2 L1419.4,1437.5 L1422.4,1435.6 L1425.4,1435.8 L1428.4,1434.6 L1431.4,1434.2 L1434.4,1434.4 L1437.4,1435.2 L1440.4,1434.7 L1443.4,1433.7 L1446.4,1433.1 L1449.4,1434.0 L1452.4,1435.5 L1455.4,1438.0 L1458.4,1440.5 L1461.4,1442.9 L1464.4,1443.6 L1467.4,1444.9 L1470.4,1445.9 L1473.4,1448.2 L1476.4,1450.5 L1479.4,1453.5 L1482.4,1455.7 L1485.4,1458.7 L1488.4,1461.6 L1491.4,1464.4 L1494.4,1465.6 L1497.4,1466.9 L1500.4,1469.2 L1503.4,1472.9 L1506.4,1477.5 L1509.4,1480.9 L1512.4,1484.2 L1515.4,1487.3 L1518.4,1489.8 L1521.4,1492.5 L1524.4,1495.0 L1527.4,1497.8 L1530.4,1502.9 L1533.4,1507.1 L1536.4,1510.0 L1539.4,1511.9 L1542.4,1514.6 L1545.4,1516.7 L1548.4,1518.6 L1551.4,1521.2 L1554.4,1523.1 L1557.4,1525.5 L1560.4,1529.6 L1563.4,1533.4 L1566.4,1535.9 L1569.4,1537.0 L1572.4,1539.1 L1575.4,1541.0 L1578.4,1543.7 L1581.4,1546.4 L1584.4,1549.8 L1587.4,1551.6 L1590.4,1552.7 L1593.4,1554.7 L1596.4,1556.4 L1599.4,1556.7 L1602.4,1557.5 L1605.4,1559.4 L1608.4,1560.9 L1611.4,1563.1 L1614.4,1564.0 L1617.4,1564.2 L1620.4,1565.3 L1623.4,1566.1 L1626.4,1568.2 L1629.4,1570.0 L1632.4,1570.2 L1635.4,1571.8 L1638.4,1573.2 L1641.4,1574.1 L1644.4,1576.0 L1647.4,1576.5 L1650.4,1577.7 L1653.4,1579.4 L1656.4,1579.7 L1659.4,1581.8 L1662.4,1580.5 L1665.4,1580.3 L1668.4,1579.8 L1671.4,1579.1 L1674.4,1578.5 L1677.4,1580.7 L1680.4,1582.6 L1683.4,1585.2 L1686.4,1586.3 L1689.4,1585.9 L1692.4,1586.4 L1695.4,1586.3 L1698.4,1585.7 L1701.4,1585.6 L1704.4,1586.6 L1707.4,1586.7 L1710.4,1586.8 L1713.4,1588.4 L1716.4,1588.5 L1719.4,1587.9 L1722.4,1587.8 L1725.4,1587.8 L1728.4,1588.3 L1731.4,1589.7 L1734.4,1591.3 L1737.4,1590.2 L1740.4,1589.6 L1743.4,1589.3 L1746.4,1589.7 L1749.4,1590.5 L1752.4,1592.0 L1755.4,1593.2 L1758.4,1592.7 L1761.4,1593.4 L1764.4,1593.2 L1767.4,1592.5 L1770.4,1591.3 L1773.4,1592.7 L1776.4,1595.3 L1779.4,1594.3 L1782.4,1594.4 L1785.4,1595.2 L1788.4,1597.7 L1791.4,1597.3 L1794.4,1597.8 L1797.4,1598.3 L1800.4,1598.9 L1803.4,1599.5 L1806.4,1600.6 L1809.4,1600.4 L1812.4,1600.0 L1815.4,1599.9 L1818.4,1599.3 L1821.4,1599.0 L1824.4,1600.5 L1827.4,1601.9 L1830.4,1602.9 L1833.4,1603.8 L1836.4,1603.6 L1839.4,1604.4 L1842.4,1604.2 L1845.4,1604.0 L1848.4,1604.7 L1851.4,1604.8 L1854.4,1605.4 L1857.4,1605.6 L1860.4,1606.9 L1863.4,1606.7 L1866.4,1607.8 L1869.4,1607.5 L1872.4,1607.5 L1875.4,1608.5 L1878.4,1608.9 L1881.4,1609.4 L1884.4,1608.9 L1887.4,1610.0 L1890.4,1610.4 L1893.4,1610.1 L1896.4,1610.6 L1899.4,1611.1 L1902.4,1610.8 L1905.4,1611.8 L1908.4,1611.8 L1911.4,1612.2 L1914.4,1612.4 L1917.4,1613.3 L1920.4,1613.8 L1923.4,1614.8 L1926.4,1615.8 L1929.4,1616.1 L1932.4,1615.1 L1935.4,1615.0 L1938.4,1615.0 L1941.4,1615.5 L1944.4,1615.9 L1947.4,1613.8 L1950.4,1613.5 L1953.4,1614.9 L1956.4,1616.6 L1959.4,1615.7 L1962.4,1614.6 L1965.4,1614.2 L1968.4,1614.4 L1971.4,1616.6 L1974.4,1617.3 L1977.4,1616.8 L1980.4,1615.7 L1983.4,1615.8 L1986.4,1616.3 L1989.4,1617.4 L1992.4,1617.3 L1995.4,1619.2 L1998.4,1618.8 L2001.4,1619.9 L2004.4,1620.2 L2007.4,1620.9 L2010.4,1620.9 L2013.4,1620.6 L2016.4,1621.6 L2019.4,1621.3 L2022.4,1622.1 L2025.4,1621.2 L2028.4,1621.6 L2031.4,1622.1 L2034.4,1621.6 L2037.4,1622.3 L2040.4,1621.7 L2043.4,1621.0 L2046.4,1621.4 L2049.4,1622.0 L2052.4,1622.8 L2055.4,1623.7 L2058.4,1624.0 L2061.4,1623.7 L2064.4,1624.5 L2067.4,1623.9 L2070.4,1623.9 L2073.4,1625.1 L2076.4,1625.3 L2079.4,1625.1 L2082.4,1625.7 L2085.4,1626.7 L2088.4,1626.9 L2091.4,1626.8 L2094.4,1627.3 L2097.4,1628.1 L2100.4,1627.3 L2103.4,1628.8 L2106.4,1628.6 L2109.4,1628.4 L2112.4,1629.5 L2115.4,1628.9 L2118.4,1629.7 L2121.4,1630.2 L2124.4,1630.1 L2127.4,1630.6 L2130.4,1629.7 L2133.4,1628.4 L2136.4,1629.0 L2139.4,1629.5 L2142.4,1630.7 L2145.4,1630.9 L2148.4,1631.8 L2151.4,1631.6 L2154.4,1631.1 L2157.4,1629.6 L2160.4,1630.8 L2163.4,1632.0 L2166.4,1632.1 L2169.4,1631.8 L2172.4,1631.5 L2175.4,1631.5 L2178.4,1632.8 L2181.4,1634.1 L2184.4,1634.3 L2187.4,1634.2 L2190.4,1634.9 L2193.4,1634.2 L2196.4,1634.0 L2199.4,1634.1 L2202.4,1634.7 L2204.5,1636.0"/>
</g>
<g id="ticklbl" font-family="'Liberation Sans', sans-serif" font-size="55" fill="#000"><text x="143.3" y="1793" text-anchor="middle">200</text><text x="401.0" y="1793" text-anchor="middle">300</text><text x="658.7" y="1793" text-anchor="middle">400</text><text x="916.5" y="1793" text-anchor="middle">500</text><text x="1174.2" y="1793" text-anchor="middle">600</text><text x="1431.9" y="1793" text-anchor="middle">700</text><text x="1689.6" y="1793" text-anchor="middle">800</text><text x="1947.3" y="1793" text-anchor="middle">900</text><text x="2205.1" y="1793" text-anchor="middle">1000</text></g>
<g fill="#000"><text transform="translate(1809.11,394.80) scale(0.9393,1)" font-family="'Liberation Sans', sans-serif" font-size="65.00">SnNb (PPT)</text><text transform="translate(1769.14,908.70) scale(0.9513,1)" font-family="'Liberation Sans', sans-serif" font-size="65.00">SnNb (CTAB)</text><text transform="translate(1867.16,1582.00) scale(0.9373,1)" font-family="'Liberation Sans', sans-serif" font-size="65.00">SnNb (EG)</text><text transform="translate(1009.92,1870.90) scale(0.9554,1)" font-family="'Liberation Sans', sans-serif" font-size="71.20">Raman shift (cm</text><text transform="translate(1505.50,1833.50) scale(0.8307,1)" font-family="'Liberation Sans', sans-serif" font-size="40.63">-1</text><text transform="translate(1542.11,1870.90) scale(0.9418,1)" font-family="'Liberation Sans', sans-serif" font-size="67.21">)</text><text transform="translate(88.90,1196.81) rotate(-90) scale(0.9680,1)" font-family="'Liberation Sans', sans-serif" font-size="70.00">Intensity (a.u)</text><text transform="translate(1100.85,1990.70) scale(0.9223,1)" font-family="'Liberation Serif', serif" font-weight="bold" font-size="88.91"><tspan font-weight="normal">(</tspan>c<tspan font-weight="normal">)</tspan></text></g>
</svg>
</body></html>
